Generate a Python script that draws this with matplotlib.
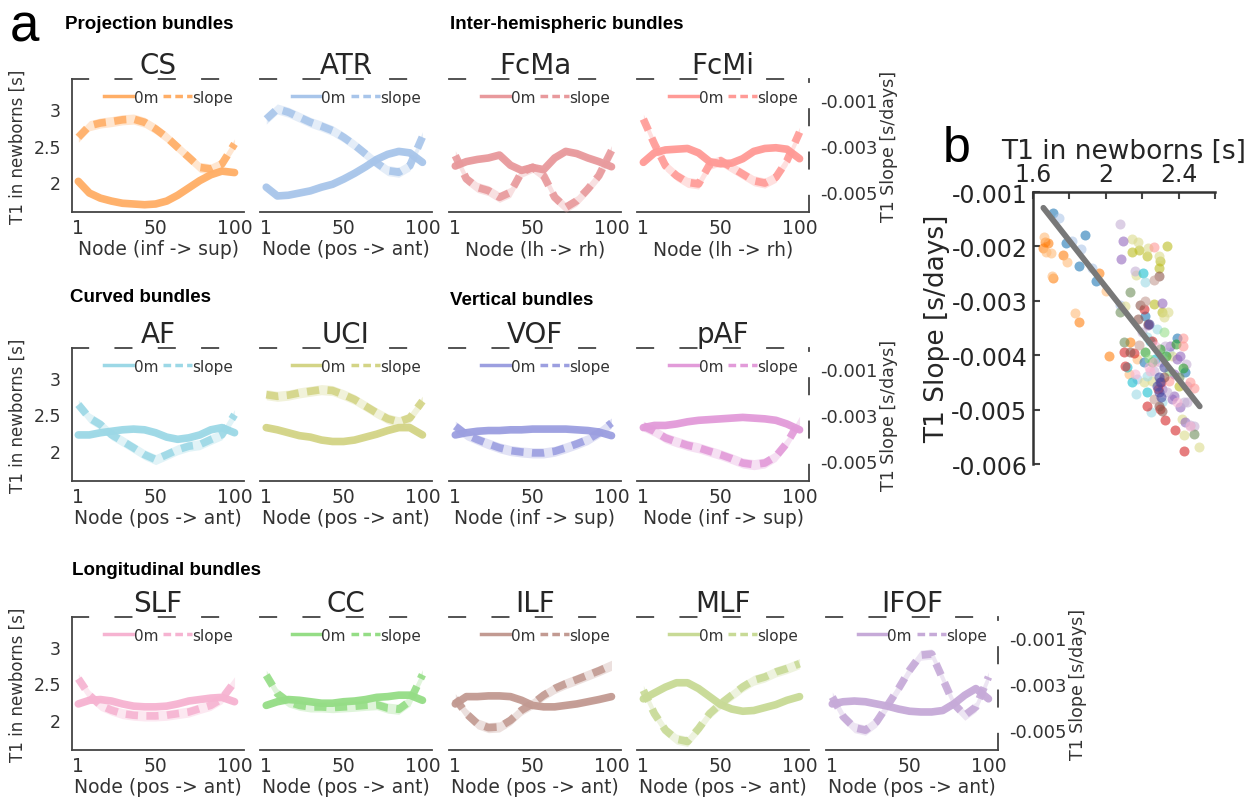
import numpy as np
import matplotlib
matplotlib.use('Agg')
import matplotlib.pyplot as plt
from matplotlib.lines import Line2D

plt.rcParams['axes.unicode_minus'] = False

# ---- panel a data: value at node positions along each bundle ----
nodes = [1, 8, 15, 22, 29, 36, 43, 50, 57, 64, 71, 78, 85, 92, 100]

# T1 in newborns [s] ("0m") and T1 slope [s/day] (values below in 1e-3 s/day)
t1_cs = [2.01, 1.85, 1.78, 1.74, 1.71, 1.70, 1.69, 1.70, 1.74, 1.82, 1.92, 2.02, 2.10, 2.15, 2.13]
slope_cs = [-2.62, -2.12, -2.00, -1.94, -1.86, -1.83, -1.97, -2.26, -2.62, -3.06, -3.49, -3.93, -4.00, -3.78, -2.91]
t1_atr = [1.93, 1.81, 1.82, 1.85, 1.88, 1.93, 1.97, 2.04, 2.12, 2.21, 2.31, 2.38, 2.42, 2.40, 2.27]
slope_atr = [-1.83, -1.39, -1.53, -1.75, -1.97, -2.14, -2.33, -2.62, -2.96, -3.35, -3.74, -4.07, -4.14, -3.86, -2.60]
t1_fcma = [2.22, 2.28, 2.31, 2.33, 2.37, 2.23, 2.16, 2.20, 2.17, 2.33, 2.42, 2.39, 2.33, 2.28, 2.21]
slope_fcma = [-3.42, -4.43, -4.80, -4.94, -5.23, -5.01, -4.14, -3.93, -4.29, -5.23, -5.67, -5.38, -4.87, -4.29, -3.20]
t1_fcmi = [2.27, 2.40, 2.44, 2.45, 2.46, 2.40, 2.28, 2.25, 2.26, 2.32, 2.42, 2.46, 2.47, 2.45, 2.32]
slope_fcmi = [-1.83, -2.91, -3.86, -4.29, -4.58, -4.65, -3.80, -3.64, -3.93, -4.22, -4.51, -4.61, -4.36, -3.64, -2.40]
t1_af = [2.22, 2.22, 2.25, 2.27, 2.29, 2.30, 2.29, 2.25, 2.19, 2.16, 2.18, 2.22, 2.29, 2.32, 2.25]
slope_af = [-2.55, -3.13, -3.42, -3.86, -4.14, -4.43, -4.73, -4.94, -4.73, -4.51, -4.36, -4.29, -4.07, -3.86, -2.99]
t1_uci = [2.32, 2.29, 2.25, 2.21, 2.19, 2.15, 2.13, 2.13, 2.15, 2.19, 2.23, 2.28, 2.32, 2.32, 2.22]
slope_uci = [-2.12, -2.19, -2.14, -2.04, -1.97, -1.90, -1.94, -2.12, -2.33, -2.62, -2.91, -3.17, -3.30, -3.13, -2.40]
t1_vof = [2.22, 2.25, 2.27, 2.28, 2.28, 2.29, 2.29, 2.30, 2.30, 2.30, 2.30, 2.29, 2.28, 2.26, 2.21]
slope_vof = [-3.49, -3.86, -4.07, -4.26, -4.43, -4.55, -4.61, -4.65, -4.65, -4.58, -4.43, -4.26, -4.07, -3.78, -3.35]
t1_paf = [2.32, 2.35, 2.35, 2.37, 2.40, 2.42, 2.43, 2.44, 2.45, 2.46, 2.45, 2.44, 2.42, 2.37, 2.29]
slope_paf = [-3.49, -3.71, -4.00, -4.17, -4.32, -4.43, -4.58, -4.73, -4.90, -5.09, -5.16, -5.09, -4.80, -4.22, -3.28]
t1_slf = [2.22, 2.27, 2.28, 2.26, 2.22, 2.19, 2.18, 2.18, 2.19, 2.22, 2.26, 2.28, 2.30, 2.31, 2.25]
slope_slf = [-2.77, -3.49, -3.93, -4.14, -4.29, -4.36, -4.39, -4.39, -4.36, -4.29, -4.22, -4.07, -3.93, -3.64, -2.91]
t1_cc = [2.20, 2.25, 2.28, 2.27, 2.25, 2.23, 2.23, 2.25, 2.26, 2.28, 2.31, 2.32, 2.34, 2.34, 2.27]
slope_cc = [-2.62, -3.42, -3.78, -3.93, -4.00, -4.00, -4.03, -4.00, -3.97, -3.93, -3.90, -4.05, -4.10, -3.75, -2.60]
t1_ilf = [2.22, 2.32, 2.32, 2.33, 2.33, 2.32, 2.27, 2.20, 2.18, 2.18, 2.20, 2.22, 2.25, 2.28, 2.32]
slope_ilf = [-3.64, -4.29, -4.73, -4.90, -4.87, -4.58, -4.14, -3.86, -3.49, -3.20, -2.99, -2.81, -2.62, -2.43, -2.19]
t1_mlf = [2.29, 2.37, 2.45, 2.51, 2.51, 2.43, 2.32, 2.21, 2.15, 2.12, 2.13, 2.17, 2.21, 2.27, 2.32]
slope_mlf = [-3.28, -4.29, -5.01, -5.40, -5.50, -4.94, -4.29, -3.86, -3.49, -3.13, -2.84, -2.70, -2.48, -2.33, -2.12]
t1_ifof = [2.22, 2.25, 2.26, 2.25, 2.22, 2.19, 2.15, 2.12, 2.11, 2.11, 2.13, 2.22, 2.34, 2.43, 2.29]
slope_ifof = [-3.57, -4.43, -4.90, -5.01, -4.65, -3.93, -3.20, -2.40, -1.75, -1.70, -2.77, -3.86, -4.36, -4.00, -2.70]

ci_t1 = 0.03      # half width of band, s
ci_slope = 0.22   # half width of band, 1e-3 s/day

bundles = ['CS', 'ATR', 'FcMa', 'FcMi', 'AF', 'UCI', 'VOF', 'pAF',
           'SLF', 'CC', 'ILF', 'MLF', 'IFOF']
t1_all = [t1_cs, t1_atr, t1_fcma, t1_fcmi, t1_af, t1_uci, t1_vof, t1_paf,
          t1_slf, t1_cc, t1_ilf, t1_mlf, t1_ifof]
slope_all = [slope_cs, slope_atr, slope_fcma, slope_fcmi, slope_af, slope_uci, slope_vof,
             slope_paf, slope_slf, slope_cc, slope_ilf, slope_mlf, slope_ifof]
node_labels = ['Node (inf -> sup)', 'Node (pos -> ant)', 'Node (lh -> rh)', 'Node (lh -> rh)',
               'Node (pos -> ant)', 'Node (pos -> ant)', 'Node (inf -> sup)', 'Node (inf -> sup)',
               'Node (pos -> ant)', 'Node (pos -> ant)', 'Node (pos -> ant)', 'Node (pos -> ant)',
               'Node (pos -> ant)']
colors = ['#ffae66', '#a8c5ea', '#e8999c', '#ff9a96', '#9cd8e6', '#d3d486', '#9c9fe0',
          '#e29bd9', '#f6b3d1', '#95dd86', '#c29a92', '#c8da96', '#c6aad8']
rows = [[0, 1, 2, 3], [4, 5, 6, 7], [8, 9, 10, 11, 12]]
group_titles = [('Projection bundles', 0.0517, 0.969), ('Inter-hemispheric bundles', 0.358, 0.969),
                ('Curved bundles', 0.0557, 0.629), ('Vertical bundles', 0.358, 0.626),
                ('Longitudinal bundles', 0.0573, 0.290)]

# ---- panel b data: T1 in newborns [s] vs slope [1e-3 s/day] ----
sc_orange_x = [1.666, 1.684, 1.653, 1.767, 1.855, 2.015, 2.134, 1.960, 1.712]
sc_orange_y = [-1.925, -1.937, -2.035, -2.152, -3.383, -4.008, -3.751, -2.489, -2.587]
sc_orange_l_x = [1.661, 1.672, 1.697, 1.703, 1.789, 1.831, 2.002, 2.125, 2.171]
sc_orange_l_y = [-1.833, -2.097, -2.121, -2.538, -2.281, -3.224, -2.814, -4.345, -4.069]
sc_blue_x = [1.708, 1.887, 1.782, 1.855, 1.945, 2.392, 2.437, 2.217, 2.208]
sc_blue_y = [-1.386, -1.790, -1.937, -2.354, -2.630, -3.690, -4.315, -3.273, -4.131]
sc_blue_l_x = [1.745, 1.813, 1.863, 1.923, 2.171, 2.076, 2.346]
sc_blue_l_y = [-1.484, -1.895, -2.048, -2.403, -4.437, -3.077, -3.947]
sc_olive_x = [2.144, 2.180, 2.226, 2.336, 2.296, 2.291, 2.309, 2.263, 2.401]
sc_olive_y = [-2.097, -2.066, -2.170, -1.999, -2.262, -2.403, -3.212, -3.059, -4.560]
sc_olive_l_x = [2.144, 2.177, 2.230, 2.291, 2.167, 2.340, 2.318, 2.432, 2.511, 2.208, 2.107, 2.364, 2.254, 2.419]
sc_olive_l_y = [-1.864, -1.913, -2.035, -2.170, -2.526, -3.200, -3.304, -5.461, -5.693, -4.499, -3.090, -4.008, -4.468, -5.173]
sc_purple_x = [2.092, 2.083, 2.230, 2.309, 2.355, 2.410, 2.373, 2.410, 2.309, 2.392, 2.373, 2.364, 2.437]
sc_purple_y = [-1.907, -2.232, -3.445, -3.040, -3.825, -4.008, -4.744, -4.958, -4.621, -4.069, -4.345, -4.805, -5.234]
sc_purple_l_x = [2.076, 2.158, 2.443, 2.461, 2.483, 2.447, 2.428, 2.199, 2.327, 2.300, 2.263, 2.336, 2.447]
sc_purple_l_y = [-1.588, -2.446, -4.162, -5.283, -5.295, -4.560, -4.866, -3.579, -3.825, -4.131, -4.284, -4.682, -4.866]
sc_cyan_x = [2.204, 2.144, 2.226, 2.245, 2.116, 2.272]
sc_cyan_y = [-2.489, -4.499, -4.682, -3.733, -4.223, -4.069]
sc_cyan_l_x = [2.217, 2.167, 2.248, 2.281, 2.226, 2.226, 2.309]
sc_cyan_l_y = [-2.648, -4.713, -5.050, -3.518, -3.671, -4.376, -4.866]
sc_green_x = [2.217, 2.388, 2.333, 2.425, 2.254, 2.300]
sc_green_y = [-3.947, -3.794, -4.008, -4.241, -4.131, -3.886]
sc_green_l_x = [2.318, 2.235, 2.346]
sc_green_l_y = [-3.579, -4.069, -4.284]
sc_sage_x = [2.134, 2.098, 2.079, 2.401, 2.483]
sc_sage_y = [-2.844, -3.751, -3.200, -4.407, -5.450]
sc_red_x = [2.098, 2.153, 2.208, 2.305, 2.300, 2.327, 2.382, 2.432, 2.226, 2.107, 2.285, 2.254]
sc_red_y = [-3.947, -3.965, -3.151, -4.499, -4.989, -5.185, -5.369, -5.755, -4.940, -4.192, -4.621, -3.733]
sc_red_l_x = [2.267, 2.425, 2.465, 2.487, 2.425, 2.346]
sc_red_l_y = [-2.017, -3.825, -4.486, -4.609, -3.690, -4.468]
sc_pink_x = [2.162, 2.245, 2.465, 2.263, 2.272, 2.235, 2.392]
sc_pink_y = [-4.345, -4.284, -5.295, -4.131, -3.825, -4.223, -4.866]
sc_brown_x = [2.190, 2.291, 2.175, 2.230, 2.291, 2.309, 2.134, 2.318]
sc_brown_y = [-3.077, -2.538, -3.334, -3.426, -4.927, -5.019, -3.935, -4.407]
sc_brown_l_x = [2.263, 2.180, 2.217, 2.263]
sc_brown_l_y = [-2.611, -3.812, -2.997, -4.805]
sc_indigo_x = [2.291, 2.300, 2.291, 2.303, 2.235, 2.318, 2.281]
sc_indigo_y = [-4.407, -4.499, -4.682, -4.774, -3.426, -4.223, -4.560]

fit_x = [1.657, 2.516]
fit_y = [-1.29, -4.94]

scatter_groups = [
    (sc_orange_x, sc_orange_y, '#ff7f0e'), (sc_orange_l_x, sc_orange_l_y, '#ffbb78'),
    (sc_blue_x, sc_blue_y, '#1f77b4'), (sc_blue_l_x, sc_blue_l_y, '#aec7e8'),
    (sc_olive_x, sc_olive_y, '#bcbd22'), (sc_olive_l_x, sc_olive_l_y, '#dbdb8d'),
    (sc_purple_x, sc_purple_y, '#9467bd'), (sc_purple_l_x, sc_purple_l_y, '#c5b0d5'),
    (sc_cyan_x, sc_cyan_y, '#17becf'), (sc_cyan_l_x, sc_cyan_l_y, '#9edae5'),
    (sc_green_x, sc_green_y, '#2ca02c'), (sc_green_l_x, sc_green_l_y, '#98df8a'),
    (sc_sage_x, sc_sage_y, '#6f8f5a'), (sc_red_x, sc_red_y, '#d62728'),
    (sc_red_l_x, sc_red_l_y, '#ff9896'), (sc_pink_x, sc_pink_y, '#f7b6d2'),
    (sc_brown_x, sc_brown_y, '#8c564b'), (sc_brown_l_x, sc_brown_l_y, '#c49c94'),
    (sc_indigo_x, sc_indigo_y, '#4b4ba3'),
]

TXT = '#333333'
SPINE = '#444444'
col_left = [0.0573, 0.2068, 0.3572, 0.5068, 0.6571]
row_bottom = [0.7347, 0.3998, 0.0648]
pw, ph = 0.1368, 0.1656

fig = plt.figure(figsize=(12.57, 8.03), dpi=100)


def draw_panel(rect, i, first, last):
    color = colors[i]
    x = np.array(nodes)
    t1 = np.array(t1_all[i])
    sl = np.array(slope_all[i]) * 1e-3
    ax = fig.add_axes(rect)
    ax2 = ax.twinx()
    ax.fill_between(x, t1 - ci_t1, t1 + ci_t1, color=color, alpha=0.3, lw=0)
    ax.plot(x, t1, color=color, lw=5.5, alpha=0.95, solid_capstyle='round',
            solid_joinstyle='round')
    ax2.fill_between(x, sl - ci_slope * 1e-3, sl + ci_slope * 1e-3, color=color, alpha=0.3, lw=0)
    ax2.plot(x, sl, color=color, lw=5.5, alpha=0.9, dashes=(1.6, 1.1))

    ax.set_xlim(-3, 106)
    ax.set_ylim(1.59, 3.41)
    ax2.set_ylim(-0.00587, -0.00009)

    for s in ['top', 'right']:
        ax.spines[s].set_visible(False)
    ax.spines['left'].set_visible(first)
    for s in ['left', 'bottom']:
        ax2.spines[s].set_visible(False)
    ax2.spines['right'].set_visible(last)
    for s in ['left', 'bottom']:
        ax.spines[s].set_color(SPINE)
        ax.spines[s].set_linewidth(1.3)
    for s in ['top', 'right']:
        ax2.spines[s].set_color(SPINE)
        ax2.spines[s].set_linewidth(1.3)
        ax2.spines[s].set_linestyle((0, (9, 15)))

    ax.set_xticks([1, 50, 100])
    ax.set_xticklabels(['1', '50', '100'])
    ax.tick_params(axis='x', length=0, pad=4, labelsize=13.5, labelcolor=TXT)
    ax.set_yticks([2, 2.5, 3])
    if first:
        ax.set_yticklabels(['2', '2.5', '3'])
        ax.set_ylabel('T1 in newborns [s]', fontsize=12, color=TXT, labelpad=5)
    else:
        ax.set_yticklabels([])
    ax.tick_params(axis='y', length=0, pad=8, labelsize=12.5, labelcolor=TXT)
    ax2.set_yticks([-0.005, -0.003, -0.001])
    if last:
        ax2.set_yticklabels(['-0.005', '-0.003', '-0.001'])
        ax2.set_ylabel('T1 Slope [s/days]', fontsize=12.5, color=TXT, labelpad=2)
    else:
        ax2.set_yticklabels([])
    ax2.tick_params(axis='y', length=0, pad=8, labelsize=13, labelcolor=TXT)
    ax.set_xlabel(node_labels[i], fontsize=13.5, color=TXT, labelpad=2)
    ax2.set_title(bundles[i], fontsize=20, color='#262626', pad=0)

    handles = [Line2D([], [], color=color, lw=2.5),
               Line2D([], [], color=color, lw=2.5, dashes=(2.2, 1.2))]
    leg = ax2.legend(handles, ['0m', 'slope'], loc='upper right', ncol=2, frameon=False,
                     fontsize=11, handlelength=1.9, handletextpad=0.05, columnspacing=0.3,
                     borderaxespad=0.3)
    for t in leg.get_texts():
        t.set_color(TXT)


for r, row in enumerate(rows):
    for c, i in enumerate(row):
        draw_panel([col_left[c], row_bottom[r], pw, ph], i, c == 0, c == len(row) - 1)

for title, x, y in group_titles:
    fig.text(x, y, title, fontsize=13.5, fontweight='bold', family='Liberation Sans',
             va='center', ha='left', color='black')
fig.text(0.008, 0.966, 'a', fontsize=38, family='Liberation Sans', va='center', ha='left')
fig.text(0.750, 0.814, 'b', fontsize=36, family='Liberation Sans', va='center', ha='left')

# ---- panel b ----
axb = fig.add_axes([0.8218, 0.4209, 0.1448, 0.3387])
for xs, ys, c in scatter_groups:
    axb.scatter(xs, np.array(ys) * 1e-3, s=52, color=c, alpha=0.6, lw=0, zorder=2)
axb.plot(fit_x, np.array(fit_y) * 1e-3, color='#787878', lw=4.2, solid_capstyle='round', zorder=3)
axb.set_xlim(1.6, 2.6)
axb.set_ylim(-0.006, -0.001)
axb.xaxis.tick_top()
axb.xaxis.set_label_position('top')
axb.set_xticks([1.6, 1.8, 2.0, 2.2, 2.4, 2.6])
axb.set_xticklabels(['1.6', '', '2', '', '2.4', ''])
axb.set_yticks([-0.006, -0.005, -0.004, -0.003, -0.002, -0.001])
axb.set_yticklabels(['-0.006', '-0.005', '-0.004', '-0.003', '-0.002', '-0.001'])
axb.tick_params(axis='both', direction='in', length=5, width=1.5, color=SPINE,
                labelsize=17, labelcolor='#262626', pad=4)
for s in ['right', 'bottom']:
    axb.spines[s].set_visible(False)
for s in ['left', 'top']:
    axb.spines[s].set_color('#333333')
    axb.spines[s].set_linewidth(1.8)
axb.set_xlabel('T1 in newborns [s]', fontsize=19, color='#262626', labelpad=3)
axb.set_ylabel('T1 Slope [s/days]', fontsize=19, color='#262626', labelpad=1)

fig.savefig('out.png', dpi=100)
